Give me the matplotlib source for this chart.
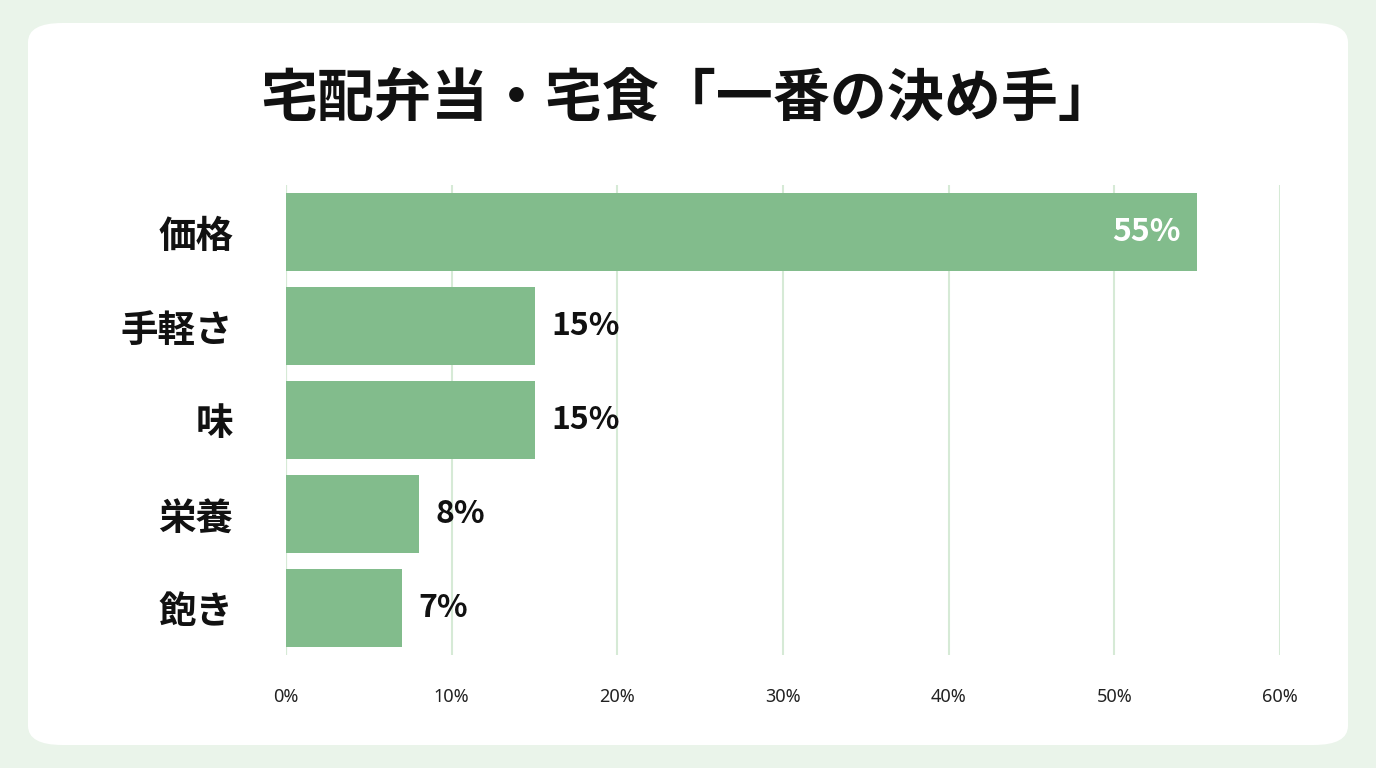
import matplotlib
matplotlib.use('Agg')
import matplotlib.pyplot as plt
from matplotlib.patches import FancyBboxPatch

plt.rcParams['font.family'] = ['Noto Sans CJK JP', 'DejaVu Sans']

# データ
categories = ['価格', '手軽さ', '味', '栄養', '飽き']
values = [55, 15, 15, 8, 7]
xticks = [0, 10, 20, 30, 40, 50, 60]
title = '宅配弁当・宅食「一番の決め手」'

bar_color = '#82bc8c'
grid_color = '#d6ead6'

fig = plt.figure(figsize=(13.76, 7.68), dpi=100)
fig.patch.set_facecolor('#eaf4ea')

# 白いカード（軸より下に描く）
card = FancyBboxPatch((28 / 1376, 23 / 768), 1320 / 1376, 722 / 768,
                      boxstyle='round,pad=0,rounding_size=0.025',
                      transform=fig.transFigure, facecolor='white',
                      edgecolor='none', zorder=-10)
fig.patches.append(card)

fig.text(0.5, 1 - 100 / 768, title, ha='center', va='center',
         fontsize=41, fontweight='bold', color='#111111')

ax = fig.add_axes([286 / 1376, 1 - 655 / 768, 994 / 1376, 470 / 768])
ax.set_zorder(5)
ax.set_facecolor('none')
y = list(range(len(categories)))
ax.barh(y, values, height=0.82, color=bar_color, zorder=3)
ax.set_ylim(len(categories) - 0.5, -0.5)
ax.set_xlim(0, 60)

for i, v in enumerate(values):
    if v > 40:
        ax.text(v - 1, i, f'{v}%', ha='right', va='center', fontsize=23,
                fontweight='bold', color='white', zorder=4)
    else:
        ax.text(v + 1, i, f'{v}%', ha='left', va='center', fontsize=23,
                fontweight='bold', color='#111111', zorder=4)

ax.set_yticks(y)
ax.set_yticklabels(categories, fontsize=27, fontweight='bold', color='#111111')
ax.tick_params(axis='y', length=0, pad=38)
ax.set_xticks(xticks)
ax.set_xticklabels([f'{t}%' for t in xticks], fontsize=13, color='#222222',
                   family=['Noto Sans', 'DejaVu Sans'])
ax.tick_params(axis='x', length=0, pad=24)
ax.grid(axis='x', color=grid_color, linewidth=1.5, zorder=0)
for s in ax.spines.values():
    s.set_visible(False)
ax.axvline(0, color='#cfdccf', linewidth=1.5, zorder=1)

plt.savefig('out.png', dpi=100, facecolor=fig.get_facecolor())
